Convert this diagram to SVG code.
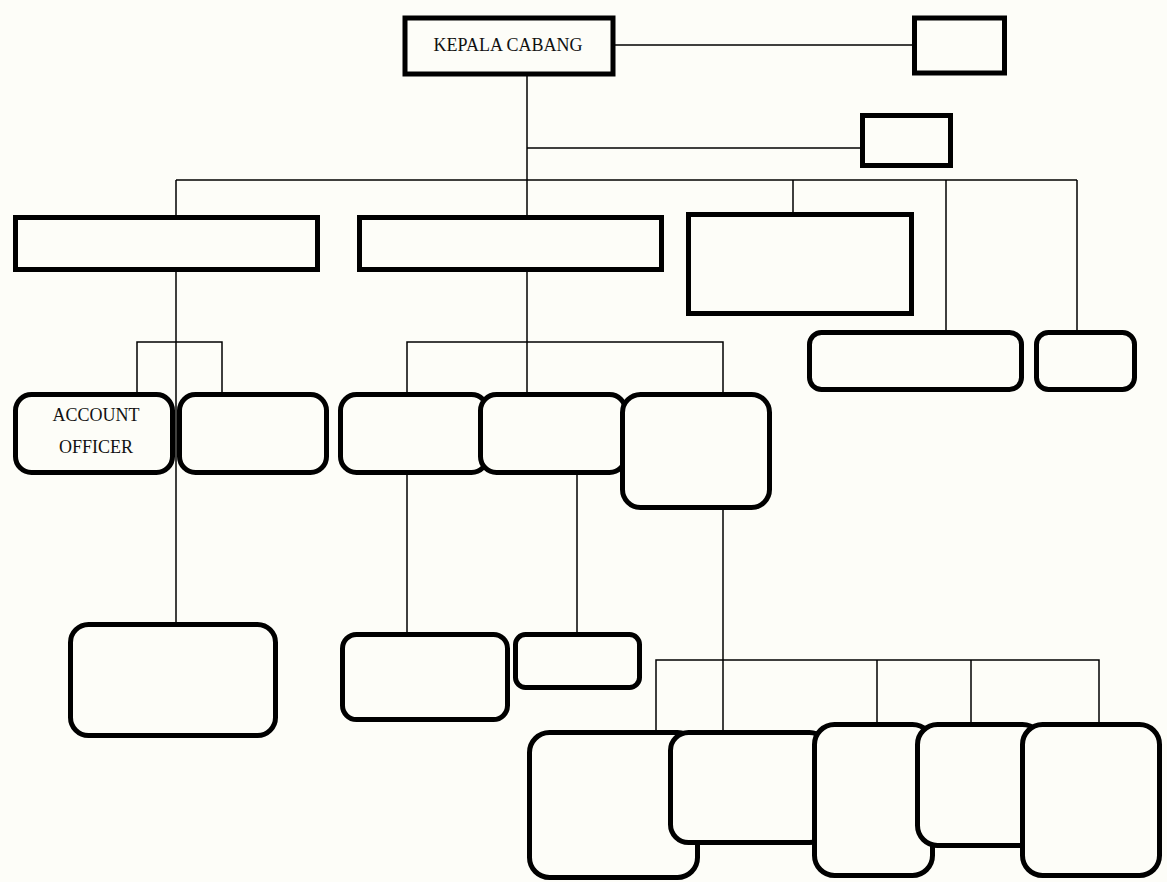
<svg xmlns="http://www.w3.org/2000/svg" width="1167" height="882" viewBox="0 0 1167 882">
<style>
.b{fill:#fdfdf8;stroke:#000;stroke-width:5}
.c{stroke:#000;stroke-width:1.5;fill:none}
text{font-family:"Liberation Serif","Times New Roman",serif;font-size:18px;fill:#111;text-anchor:middle}
</style>
<rect x="0" y="0" width="1167" height="882" fill="#fdfdf8"/>
<g id="connectors" class="c">
<path d="M615 45H912"/>
<path d="M527 76V215"/>
<path d="M527 148H860"/>
<path d="M176 180H1077"/>
<path d="M176 180V215M793 180V212M946 180V330M1077 180V330"/>
<path d="M176 272V622"/>
<path d="M137 392V342H222V392"/>
<path d="M527 272V392"/>
<path d="M407 392V342H723V392"/>
<path d="M407 475V632M577 475V632"/>
<path d="M723 510V730"/>
<path d="M656 730V660H1099V722M877 660V722M971 660V722"/>
</g>
<g id="kepala-cabang"><rect class="b" x="405" y="18" width="208" height="56"/><text x="508" y="51">KEPALA CABANG</text></g>
<g id="top-right"><rect class="b" x="914.5" y="18" width="90" height="55"/></g>
<g id="staff-box"><rect class="b" x="862.5" y="115.5" width="88" height="50"/></g>
<g id="l2-a"><rect class="b" x="15.5" y="217.5" width="302" height="52"/></g>
<g id="l2-b"><rect class="b" x="359.5" y="217.5" width="302" height="52"/></g>
<g id="l2-c"><rect class="b" x="688.5" y="214.5" width="223" height="99"/></g>
<g id="l2-d"><rect class="b" x="809.5" y="332.5" width="212" height="57" rx="12"/></g>
<g id="l2-e"><rect class="b" x="1036.5" y="332.5" width="98" height="57" rx="12"/></g>
<g id="account-officer"><rect class="b" x="15.5" y="394.5" width="157" height="78" rx="16"/><text x="96" y="421">ACCOUNT</text><text x="96" y="453">OFFICER</text></g>
<g id="l3-ao2"><rect class="b" x="179.5" y="394.5" width="147" height="78" rx="16"/></g>
<g id="l3-f"><rect class="b" x="340.5" y="394.5" width="147" height="78" rx="16"/></g>
<g id="l3-g"><rect class="b" x="480.5" y="394.5" width="145" height="78" rx="16"/></g>
<g id="l3-h"><rect class="b" x="622.5" y="394.5" width="147" height="113" rx="18"/></g>
<g id="l4-k"><rect class="b" x="70.5" y="624.5" width="205" height="111" rx="18"/></g>
<g id="l4-l"><rect class="b" x="342.5" y="634.5" width="165" height="85" rx="14"/></g>
<g id="l4-m"><rect class="b" x="515.5" y="634.5" width="124" height="53" rx="10"/></g>
<g id="l5-n"><rect class="b" x="529.5" y="732.5" width="168" height="145" rx="20"/></g>
<g id="l5-o"><rect class="b" x="670.5" y="732.5" width="157" height="110" rx="18"/></g>
<g id="l5-p"><rect class="b" x="814.5" y="724.5" width="118" height="151" rx="20"/></g>
<g id="l5-q"><rect class="b" x="917.5" y="724.5" width="125" height="121" rx="20"/></g>
<g id="l5-r"><rect class="b" x="1022.5" y="724.5" width="137" height="151" rx="20"/></g>
</svg>
